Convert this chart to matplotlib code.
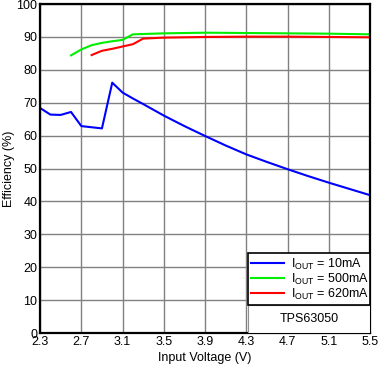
import matplotlib
matplotlib.use('Agg')
import matplotlib.pyplot as plt
from matplotlib.patches import Rectangle

plt.rcParams['font.family'] = ['Liberation Sans', 'DejaVu Sans']
plt.rcParams['mathtext.fontset'] = 'custom'
plt.rcParams['mathtext.rm'] = 'Liberation Sans'

# data
v_10 = [2.3, 2.4, 2.5, 2.6, 2.7, 2.9, 3.0, 3.1, 3.2, 3.3, 3.5, 3.7, 3.9, 4.1, 4.3, 4.5, 4.7, 4.9, 5.1, 5.3, 5.5]
eff_10 = [68.4, 66.4, 66.3, 67.2, 62.9, 62.2, 76.1, 73.1, 71.3, 69.6, 66.1, 62.9, 59.9, 57.0, 54.3, 52.0, 49.8, 47.7, 45.7, 43.8, 41.9]
v_500 = [2.6, 2.7, 2.8, 2.9, 3.0, 3.1, 3.2, 3.5, 3.9, 4.3, 4.7, 5.1, 5.5]
eff_500 = [84.4, 86.2, 87.5, 88.2, 88.7, 89.1, 90.8, 91.1, 91.3, 91.2, 91.1, 91.0, 90.8]
v_620 = [2.8, 2.9, 3.0, 3.1, 3.2, 3.3, 3.5, 3.9, 4.3, 4.7, 5.1, 5.5]
eff_620 = [84.5, 85.8, 86.4, 87.1, 87.8, 89.5, 89.8, 90.0, 90.1, 90.1, 90.0, 89.9]
xticks = [2.3, 2.7, 3.1, 3.5, 3.9, 4.3, 4.7, 5.1, 5.5]
yticks = list(range(0, 101, 10))

fig = plt.figure(figsize=(3.78, 3.70), dpi=100)
ax = fig.add_axes([0.106, 0.1, 0.873, 0.889])

ax.plot(v_10, eff_10, color='#0000ff', lw=1.5, label=r'I$_{\mathrm{OUT}}$ = 10mA')
ax.plot(v_500, eff_500, color='#00ee00', lw=1.5, label=r'I$_{\mathrm{OUT}}$ = 500mA')
ax.plot(v_620, eff_620, color='#ff0000', lw=1.5, label=r'I$_{\mathrm{OUT}}$ = 620mA')

ax.set_xlim(2.3, 5.5)
ax.set_ylim(0, 100)
ax.set_xticks(xticks)
ax.set_xticklabels([f'{x:.1f}' for x in xticks])
ax.set_yticks(yticks)
ax.tick_params(length=0, labelsize=9, pad=2)
ax.grid(True, color='#808080', lw=1)
ax.set_axisbelow(True)
for s in ax.spines.values():
    s.set_linewidth(1.6)
    s.set_color('black')

ax.set_xlabel('Input Voltage (V)', fontsize=9, labelpad=3)
ax.set_ylabel('Efficiency (%)', fontsize=9, labelpad=1)

leg = ax.legend(loc='lower right', bbox_to_anchor=(0.63, 0.085, 0.37, 0.152), mode='expand',
                fontsize=9, frameon=True, fancybox=False, borderaxespad=0,
                handlelength=2.6, handletextpad=0.6, labelspacing=0.0, borderpad=0.25)
leg.get_frame().set_edgecolor('black')
leg.get_frame().set_linewidth(1.2)
leg.get_frame().set_alpha(1)

ax.add_patch(Rectangle((0.63, 0.0), 0.37, 0.085, transform=ax.transAxes,
                       facecolor='white', edgecolor='#909090', lw=0.8, zorder=4))
ax.text(0.815, 0.042, 'TPS63050', transform=ax.transAxes, ha='center', va='center',
        fontsize=9, zorder=5)

fig.savefig('out.png', dpi=100)
